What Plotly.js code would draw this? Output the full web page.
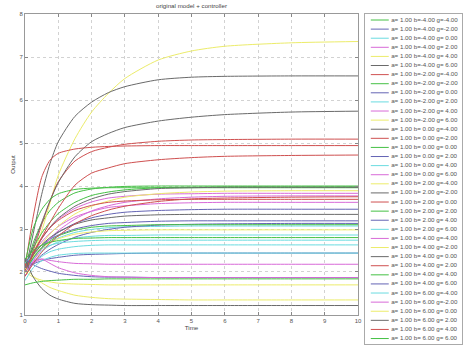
<!DOCTYPE html>
<html><head><meta charset="utf-8">
<script src="https://cdn.plot.ly/plotly-3.0.1.min.js"></script>
<style>html,body{margin:0;padding:0;background:#fff}#chart{width:468px;height:347px}</style>
</head><body><div id="chart"></div>
<script>
// time samples
const tGrid = [0, 0.25, 0.5, 0.75, 1, 1.5, 2, 2.5, 3, 4, 5, 6, 8, 10];
// MATLAB-like colour cycle g b c m y k r
const colorCycle = ['#44c044', '#6464b4', '#6adbe0', '#d86ad8', '#ecec6a', '#6a6a6a', '#cf5050'];
const aVal = 1;
const bVals = [-4, -2, 0, 2, 4, 6];
const gVals = [-4, -2, 0, 2, 4, 6];

// responses, legend order
const r01 = [2.00, 2.68, 3.13, 3.43, 3.62, 3.84, 3.93, 3.97, 3.99, 4.00, 4.00, 4.00, 4.00, 4.00];
const r02 = [2.00, 2.32, 2.57, 2.77, 2.92, 3.13, 3.26, 3.34, 3.39, 3.43, 3.45, 3.46, 3.46, 3.46];
const r03 = [2.10, 2.36, 2.55, 2.69, 2.79, 2.92, 2.99, 3.03, 3.05, 3.06, 3.07, 3.07, 3.07, 3.07];
const r04 = [2.00, 2.44, 2.78, 3.03, 3.23, 3.48, 3.63, 3.72, 3.76, 3.81, 3.82, 3.83, 3.83, 3.83];
const r05 = [2.00, 2.40, 2.95, 3.60, 4.25, 5.10, 5.72, 6.15, 6.50, 6.93, 7.14, 7.25, 7.33, 7.36];
const r06 = [2.00, 2.90, 3.80, 4.52, 5.03, 5.62, 5.95, 6.17, 6.31, 6.47, 6.53, 6.55, 6.56, 6.56];
const r07 = [2.00, 2.50, 3.10, 3.65, 4.10, 4.58, 4.80, 4.90, 4.97, 5.04, 5.07, 5.08, 5.09, 5.09];
const r08 = [2.10, 2.56, 2.90, 3.16, 3.36, 3.62, 3.78, 3.86, 3.91, 3.96, 3.97, 3.98, 3.98, 3.98];
const r09 = [2.20, 2.44, 2.62, 2.76, 2.86, 3.00, 3.08, 3.13, 3.15, 3.18, 3.19, 3.19, 3.19, 3.19];
const r10 = [2.00, 2.29, 2.49, 2.61, 2.70, 2.79, 2.83, 2.85, 2.85, 2.86, 2.86, 2.86, 2.86, 2.86];
const r11 = [2.10, 2.44, 2.70, 2.90, 3.06, 3.28, 3.41, 3.50, 3.54, 3.59, 3.61, 3.62, 3.62, 3.62];
const r12 = [2.00, 2.36, 2.64, 2.88, 3.07, 3.35, 3.53, 3.65, 3.74, 3.82, 3.86, 3.88, 3.89, 3.89];
const r13 = [2.10, 2.60, 3.15, 3.65, 4.08, 4.68, 5.03, 5.22, 5.36, 5.51, 5.60, 5.66, 5.72, 5.74];
const r14 = [2.10, 3.30, 4.20, 4.60, 4.76, 4.86, 4.90, 4.92, 4.93, 4.94, 4.94, 4.94, 4.94, 4.94];
const r15 = [2.20, 3.02, 3.45, 3.69, 3.82, 3.92, 3.95, 3.96, 3.96, 3.96, 3.96, 3.96, 3.96, 3.96];
const r16 = [2.00, 2.21, 2.39, 2.53, 2.64, 2.81, 2.92, 2.99, 3.04, 3.09, 3.11, 3.12, 3.13, 3.13];
const r17 = [2.20, 2.41, 2.54, 2.62, 2.67, 2.71, 2.73, 2.74, 2.74, 2.74, 2.74, 2.74, 2.74, 2.74];
const r18 = [1.90, 2.25, 2.54, 2.77, 2.96, 3.23, 3.42, 3.54, 3.62, 3.70, 3.74, 3.76, 3.77, 3.77];
const r19 = [2.10, 2.36, 2.55, 2.68, 2.77, 2.88, 2.93, 2.96, 2.97, 2.98, 2.98, 2.98, 2.98, 2.98];
const r20 = [2.00, 2.44, 2.77, 3.04, 3.25, 3.53, 3.70, 3.81, 3.87, 3.94, 3.96, 3.97, 3.97, 3.97];
const r21 = [2.00, 2.40, 2.80, 3.15, 3.48, 4.02, 4.30, 4.42, 4.52, 4.61, 4.66, 4.69, 4.71, 4.72];
const r22 = [2.00, 2.33, 2.56, 2.72, 2.84, 2.97, 3.04, 3.07, 3.08, 3.10, 3.10, 3.10, 3.10, 3.10];
const r23 = [2.10, 2.19, 2.26, 2.31, 2.34, 2.39, 2.41, 2.42, 2.43, 2.44, 2.44, 2.44, 2.44, 2.44];
const r24 = [1.90, 2.19, 2.36, 2.47, 2.53, 2.59, 2.62, 2.63, 2.63, 2.63, 2.63, 2.63, 2.63, 2.63];
const r25 = [1.90, 2.20, 2.30, 2.27, 2.24, 2.20, 2.19, 2.18, 2.18, 2.18, 2.18, 2.18, 2.18, 2.18];
const r26 = [2.00, 1.88, 1.81, 1.77, 1.74, 1.72, 1.71, 1.70, 1.70, 1.70, 1.70, 1.70, 1.70, 1.70];
const r27 = [2.10, 2.40, 2.63, 2.80, 2.93, 3.11, 3.21, 3.26, 3.30, 3.33, 3.34, 3.34, 3.34, 3.34];
const r28 = [2.00, 2.45, 2.79, 3.03, 3.20, 3.43, 3.55, 3.62, 3.65, 3.68, 3.69, 3.69, 3.69, 3.69];
const r29 = [2.30, 2.50, 2.62, 2.69, 2.73, 2.78, 2.79, 2.80, 2.80, 2.80, 2.80, 2.80, 2.80, 2.80];
const r30 = [2.30, 2.17, 2.08, 2.02, 1.97, 1.92, 1.89, 1.88, 1.88, 1.87, 1.87, 1.87, 1.87, 1.87];
const r31 = [1.80, 2.10, 2.26, 2.34, 2.39, 2.43, 2.44, 2.44, 2.44, 2.44, 2.44, 2.44, 2.44, 2.44];
const r32 = [2.00, 2.25, 2.30, 2.20, 2.10, 1.98, 1.92, 1.89, 1.88, 1.87, 1.87, 1.87, 1.87, 1.87];
const r33 = [2.10, 1.90, 1.75, 1.64, 1.57, 1.46, 1.41, 1.38, 1.37, 1.36, 1.35, 1.35, 1.35, 1.35];
const r34 = [2.30, 1.88, 1.62, 1.46, 1.37, 1.27, 1.24, 1.23, 1.22, 1.22, 1.22, 1.22, 1.22, 1.22];
const r35 = [1.90, 2.20, 2.46, 2.67, 2.84, 3.12, 3.31, 3.44, 3.53, 3.64, 3.70, 3.72, 3.74, 3.75];
const r36 = [1.70, 1.75, 1.78, 1.80, 1.81, 1.83, 1.83, 1.84, 1.84, 1.84, 1.84, 1.84, 1.84, 1.84];

const responses = [r01,r02,r03,r04,r05,r06,r07,r08,r09,r10,r11,r12,r13,r14,r15,r16,r17,r18,
                   r19,r20,r21,r22,r23,r24,r25,r26,r27,r28,r29,r30,r31,r32,r33,r34,r35,r36];

function fmt(v) { return (v < 0 ? '' : ' ') + v.toFixed(2); }
const labels = [];
bVals.forEach(b => gVals.forEach(g => labels.push('a=' + fmt(aVal) + ' b=' + fmt(b) + ' g=' + fmt(g))));

const FONT = 'Liberation Sans, Arial, Helvetica, sans-serif';
const traces = [];
responses.forEach((ys, i) => {
  traces.push({
    type: 'scatter', mode: 'lines', x: tGrid, y: ys, xaxis: 'x', yaxis: 'y',
    line: {color: colorCycle[i % 7], width: 1, shape: 'spline', smoothing: 0.7},
    hoverinfo: 'skip', name: labels[i]
  });
});
// custom legend on its own axes
const entryIdx = labels.map((_, i) => i + 1);
labels.forEach((lab, i) => {
  traces.push({
    type: 'scatter', mode: 'lines', x: [0.06, 0.245], y: [entryIdx[i], entryIdx[i]],
    xaxis: 'x2', yaxis: 'y2', line: {color: colorCycle[i % 7], width: 1}, hoverinfo: 'skip'
  });
});
traces.push({
  type: 'scatter', mode: 'text', x: entryIdx.map(() => 0.27), y: entryIdx, text: labels,
  textposition: 'middle right', textfont: {family: FONT, size: 6.2, color: '#555'},
  xaxis: 'x2', yaxis: 'y2', hoverinfo: 'skip', cliponaxis: false
});

const axCommon = {
  ticks: 'inside', ticklen: 3, tickcolor: '#888', showline: true, linecolor: '#999', linewidth: 1,
  mirror: 'ticks', showgrid: true, gridcolor: '#d2d2d2', griddash: 'dot', gridwidth: 1,
  zeroline: false, tickfont: {family: FONT, size: 6, color: '#555'}
};
const layout = {
  width: 468, height: 347,
  margin: {l: 25, r: 6, t: 14, b: 3},
  paper_bgcolor: '#fff', plot_bgcolor: '#fff', showlegend: false,
  font: {family: FONT, size: 6, color: '#444'},
  title: {text: 'original model + controller', font: {family: FONT, size: 6.2, color: '#444'},
          x: 0.381, xref: 'paper', xanchor: 'center', y: 1 - 6 / 347, yref: 'container', yanchor: 'middle'},
  xaxis: Object.assign({}, axCommon, {domain: [0, 0.762], range: [0, 10], dtick: 1, anchor: 'y',
          title: {text: 'Time', font: {family: FONT, size: 6.2, color: '#444'}, standoff: 2}}),
  yaxis: Object.assign({}, axCommon, {domain: [0.0879, 1], range: [1, 8], dtick: 1, anchor: 'x',
          title: {text: 'Output', font: {family: FONT, size: 6.2, color: '#444'}, standoff: 3}}),
  xaxis2: {domain: [0.778, 1], range: [0, 1], anchor: 'y2', showline: true, mirror: true, linecolor: '#aaa',
           showgrid: false, zeroline: false, showticklabels: false, ticks: ''},
  yaxis2: {domain: [0, 1], range: [36.6, 0.34], anchor: 'x2', showline: true, mirror: true, linecolor: '#aaa',
           showgrid: false, zeroline: false, showticklabels: false, ticks: ''}
};
Plotly.newPlot('chart', traces, layout, {staticPlot: true, displayModeBar: false});
</script></body></html>
